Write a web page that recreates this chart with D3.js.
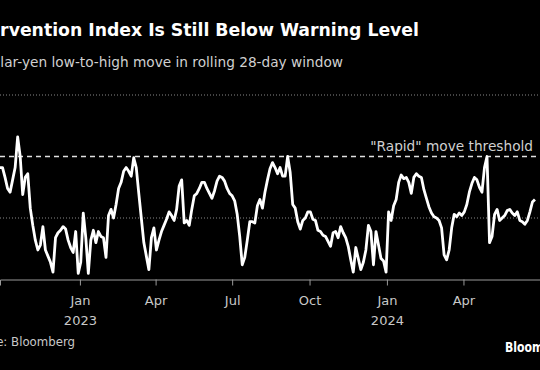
<!DOCTYPE html>
<html>
<head>
<meta charset="utf-8">
<script src="https://cdn.jsdelivr.net/npm/d3@7"></script>
<style>
  body { margin: 0; background: #000; }
  svg { display: block; font-family: "DejaVu Sans", sans-serif; }
</style>
</head>
<body>
<script>
// yen move (low-to-high, rolling 28-day window), one reading every 3 days from 2022-09-28
const startDate = "2022-09-28"
const stepDays = 3
const values = [
  9.1, 9.1, 8.3, 7.4, 7.1, 8.1, 9.1, 11.6, 10.0, 6.9, 8.3, 8.6, 5.8, 4.4, 3.2, 2.4, 2.8, 4.3, 2.4,
  1.9, 1.4, 0.6, 3.4, 3.8, 4.0, 4.3, 4.1, 3.2, 2.6, 2.2, 3.9, 0.5, 1.4, 5.4, 3.4, 0.5, 3.2, 4.0, 3.0,
  3.9, 3.5, 3.4, 1.8, 5.2, 5.7, 5.0, 6.1, 7.4, 7.9, 8.8, 9.1, 8.8, 8.4, 9.9, 9.1, 7.0, 5.0, 3.0,
  1.9, 0.8, 3.4, 4.2, 2.4, 3.2, 3.9, 4.4, 4.9, 5.5, 5.2, 4.8, 5.7, 7.6, 8.1, 4.6, 4.8, 4.4, 5.7, 6.8,
  7.0, 7.4, 7.9, 7.9, 7.4, 7.0, 6.6, 7.2, 8.0, 8.4, 8.3, 8.0, 7.4, 7.0, 6.8, 6.4, 5.3, 3.5, 1.2,
  1.8, 3.2, 4.7, 4.7, 4.6, 6.0, 6.5, 5.8, 7.1, 8.1, 9.0, 9.5, 9.1, 8.6, 9.1, 8.4, 8.4, 10.0, 8.7, 6.1,
  5.8, 4.7, 4.1, 4.8, 5.0, 5.5, 5.5, 4.9, 4.8, 4.0, 3.9, 3.6, 3.5, 3.1, 2.7, 3.8, 3.9, 3.4, 4.3,
  3.8, 3.4, 2.7, 1.6, 0.6, 2.6, 1.7, 0.8, 1.4, 2.4, 4.4, 3.9, 1.2, 3.9, 2.8, 1.7, 1.5, 0.6, 5.5,
  4.8, 6.0, 6.5, 7.9, 8.5, 8.2, 8.3, 7.9, 7.0, 8.3, 8.6, 8.4, 8.3, 7.3, 6.6, 5.9, 5.4, 5.1, 5.0, 4.8,
  4.2, 2.0, 1.6, 2.4, 4.2, 5.3, 5.1, 5.4, 5.2, 5.5, 6.1, 7.1, 7.8, 8.3, 8.1, 7.5, 7.1, 9.1, 10.0,
  3.0, 3.5, 5.3, 5.7, 4.8, 5.0, 5.2, 5.6, 5.7, 5.4, 5.2, 5.5, 4.8, 4.7, 4.5, 4.8, 5.5, 6.3, 6.5
]
const threshold = 10
const gridValues = [5, 15]
const tickDates = ["2023-01-01", "2023-04-01", "2023-07-01", "2023-10-01", "2024-01-01", "2024-04-01"]

const WIDTH = 540
const HEIGHT = 370

const parse = d3.timeParse("%Y-%m-%d")
const start = parse(startDate)
var data = values.map(function(v, i) {
  return { date: d3.timeDay.offset(start, i * stepDays), value: v }
})

const svg = d3.select("body").append("svg")
  .attr("width", WIDTH).attr("height", HEIGHT)

svg.append("rect").attr("width", WIDTH).attr("height", HEIGHT).attr("fill", "#000")

// the picture is a crop of a wider chart: the visible window runs from late Sep 2022 to Jul 2024
var x = d3.scaleTime()
  .domain([parse("2022-09-28"), parse("2024-07-01")])
  .range([0, WIDTH])
var y = d3.scaleLinear().domain([0, 15]).range([279.5, 95])

// width of a string at a given font size / weight
function measure(str, size, weight) {
  var tmp = svg.append("text")
    .attr("font-size", size)
    .attr("font-weight", weight)
    .text(str)
  var w = tmp.node().getComputedTextLength()
  tmp.remove()
  return w
}

// scale a text's font so that the visible part (sub) has width w
function fit(sel, sub, w) {
  var size = +sel.attr("font-size")
  sel.attr("font-size", size * w / measure(sub, size, sel.attr("font-weight")))
}

// header
var title = svg.append("text")
  .attr("x", 419).attr("y", 36)
  .attr("text-anchor", "end")
  .attr("fill", "#fff")
  .attr("font-size", 16).attr("font-weight", "bold")
  .text("Intervention Index Is Still Below Warning Level")
fit(title, "rvention Index Is Still Below Warning Level", 419)

var subtitle = svg.append("text")
  .attr("x", 343).attr("y", 67)
  .attr("text-anchor", "end")
  .attr("fill", "#d0d0d0")
  .attr("font-size", 14)
  .text("Dollar-yen low-to-high move in rolling 28-day window")
fit(subtitle, "lar-yen low-to-high move in rolling 28-day window", 343)

// gridlines
svg.selectAll(".grid")
  .data(gridValues)
  .enter().append("line")
  .attr("class", "grid")
  .attr("x1", 0).attr("x2", WIDTH)
  .attr("y1", function(d) { return y(d) })
  .attr("y2", function(d) { return y(d) })
  .attr("stroke", "#888")
  .attr("stroke-dasharray", "1,2")

// threshold
svg.append("line")
  .attr("x1", 0).attr("x2", WIDTH)
  .attr("y1", y(threshold)).attr("y2", y(threshold))
  .attr("stroke", "#e0e0e0")
  .attr("stroke-width", 1.5)
  .attr("stroke-dasharray", "5,4")

var thrLabel = svg.append("text")
  .attr("x", 533).attr("y", 151)
  .attr("text-anchor", "end")
  .attr("fill", "#d0d0d0")
  .attr("font-size", 14)
  .text('"Rapid" move threshold')
fit(thrLabel, '"Rapid" move threshold', 163)

// x axis
var xAxis = svg.append("g")
  .attr("transform", "translate(0," + y(0) + ")")
  .call(d3.axisBottom(x)
    .tickValues(tickDates.map(parse))
    .tickSize(6)
    .tickFormat(d3.timeFormat("%b")))
xAxis.select(".domain").attr("stroke", "#999")
xAxis.selectAll(".tick line").attr("stroke", "#999")
xAxis.selectAll(".tick text")
  .attr("fill", "#c8c8c8")
  .attr("font-size", 13)
  .attr("font-family", "DejaVu Sans, sans-serif")
  .attr("y", 25).attr("dy", null)
xAxis.selectAll(".tick")
  .filter(function(d) { return d.getMonth() == 0 })
  .append("text")
  .attr("fill", "#c8c8c8")
  .attr("font-size", 13)
  .attr("font-family", "DejaVu Sans, sans-serif")
  .attr("y", 45)
  .attr("text-anchor", "middle")
  .text(function(d) { return d.getFullYear() })

// the line
var line = d3.line()
  .x(function(d) { return x(d.date) })
  .y(function(d) { return y(d.value) })

svg.append("path")
  .datum(data)
  .attr("fill", "none")
  .attr("stroke", "#fff")
  .attr("stroke-width", 2.8)
  .attr("stroke-linejoin", "round")
  .attr("d", line)

// footer
var source = svg.append("text")
  .attr("x", 75).attr("y", 346)
  .attr("text-anchor", "end")
  .attr("fill", "#c8c8c8")
  .attr("font-size", 13)
  .text("Source: Bloomberg")
fit(source, "Bloomberg", 64)

// logo is a narrow bold face: squeeze it horizontally
var sx = 27 / measure("Bloo", 14, "bold")
svg.append("text")
  .attr("transform", "translate(505,352) scale(" + sx + ",1)")
  .attr("fill", "#fff")
  .attr("font-size", 14).attr("font-weight", "bold")
  .text("Bloomberg")
</script>
</body>
</html>
